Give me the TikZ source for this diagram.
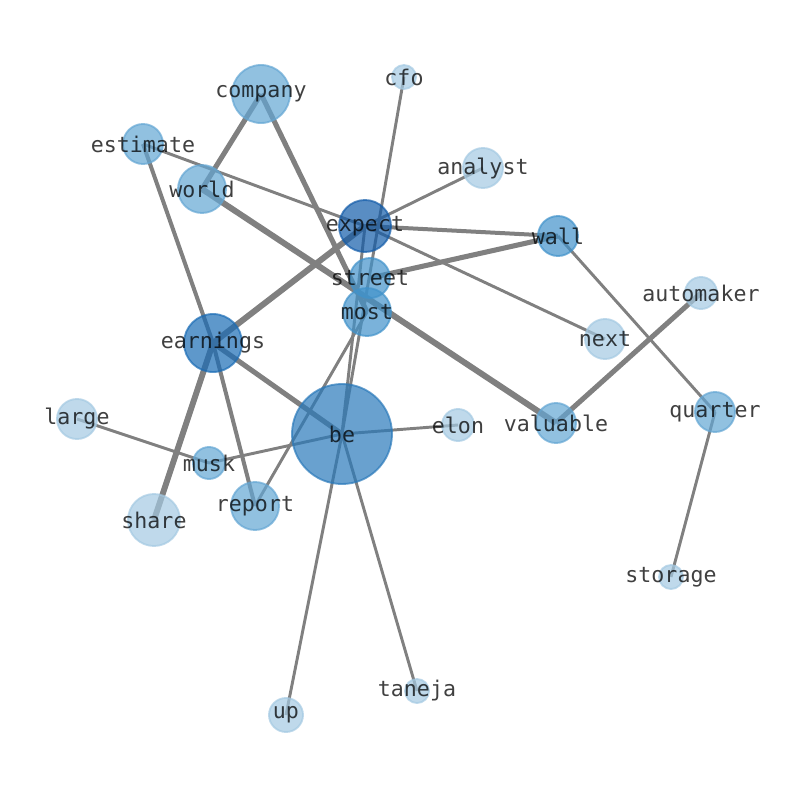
\documentclass[tikz,border=0pt]{standalone}
\usepackage{fontspec}
\setmonofont{DejaVu Sans Mono}
\begin{document}
\begin{tikzpicture}[x=0.75pt,y=-0.75pt,
  cLight/.style={fill=lightc,draw=lightc},
  cMed/.style={fill=medc,draw=medc},
  cMd/.style={fill=mdc,draw=mdc},
  cBe/.style={fill=bec,draw=bec},
  cEarn/.style={fill=earnc,draw=earnc},
  cExp/.style={fill=expc,draw=expc},
  vtx/.style={circle,inner sep=0pt,fill opacity=0.7,draw opacity=0.7,line width=1.4pt},
  lbl/.style={font=\ttfamily\fontsize{16.2}{19}\selectfont,text=black,text opacity=0.75,inner sep=0pt},
  e1/.style={draw=edgec,line width=2.2pt},
  e2/.style={draw=edgec,line width=3pt},
  e3/.style={draw=edgec,line width=3.8pt},
  e4/.style={draw=edgec,line width=4.5pt}
]
\definecolor{lightc}{HTML}{A4C9E2}
\definecolor{medc}{HTML}{63A6D3}
\definecolor{mdc}{HTML}{4192CA}
\definecolor{bec}{HTML}{2A79BA}
\definecolor{earnc}{HTML}{1A6CB5}
\definecolor{expc}{HTML}{135CA9}
\definecolor{edgec}{HTML}{808080}
\useasboundingbox (0,0) rectangle (794,790);
% node positions
\coordinate (cfo) at (404,77);
\coordinate (company) at (261,94);
\coordinate (estimate) at (143,144);
\coordinate (world) at (202,189);
\coordinate (analyst) at (483,168);
\coordinate (expect) at (365,226);
\coordinate (wall) at (558,236);
\coordinate (street) at (370,278);
\coordinate (most) at (367,312);
\coordinate (automaker) at (701,293);
\coordinate (earnings) at (213,343);
\coordinate (next) at (605,339);
\coordinate (large) at (77,419);
\coordinate (be) at (342,434);
\coordinate (elon) at (458,425);
\coordinate (valuable) at (556,423);
\coordinate (quarter) at (715,412);
\coordinate (musk) at (209,463);
\coordinate (report) at (255,506);
\coordinate (share) at (154,520);
\coordinate (storage) at (671,577);
\coordinate (taneja) at (417,691);
\coordinate (up) at (286,715);
% edges
\draw[e1] (cfo) -- (be);
\draw[e3] (company) -- (world);
\draw[e3] (company) -- (most);
\draw[e1] (estimate) -- (expect);
\draw[e2] (estimate) -- (earnings);
\draw[e4] (world) -- (valuable);
\draw[e1] (analyst) -- (expect);
\draw[e2] (expect) -- (wall);
\draw[e1] (expect) -- (next);
\draw[e4] (expect) -- (earnings);
\draw[e1] (expect) -- (be);
\draw[e3] (street) -- (wall);
\draw[e4] (earnings) -- (share);
\draw[e3] (earnings) -- (be);
\draw[e2] (earnings) -- (report);
\draw[e1] (large) -- (musk);
\draw[e1] (musk) -- (be);
\draw[e1] (be) -- (elon);
\draw[e1] (most) -- (report);
\draw[e1] (be) -- (up);
\draw[e1] (be) -- (taneja);
\draw[e3] (automaker) -- (valuable);
\draw[e1] (wall) -- (quarter);
\draw[e1] (quarter) -- (storage);
% vertices
\node[vtx,cLight,minimum size=18pt] (ncfo) at (cfo) {};
\node[vtx,cMed,minimum size=43.5pt] (ncompany) at (company) {};
\node[vtx,cMed,minimum size=30pt] (nestimate) at (estimate) {};
\node[vtx,cMed,minimum size=36pt] (nworld) at (world) {};
\node[vtx,cLight,minimum size=30pt] (nanalyst) at (analyst) {};
\node[vtx,cExp,minimum size=39pt] (nexpect) at (expect) {};
\node[vtx,cMd,minimum size=30pt] (nwall) at (wall) {};
\node[vtx,cMd,minimum size=30pt] (nstreet) at (street) {};
\node[vtx,cMd,minimum size=36pt] (nmost) at (most) {};
\node[vtx,cLight,minimum size=24pt] (nautomaker) at (automaker) {};
\node[vtx,cEarn,minimum size=43.5pt] (nearnings) at (earnings) {};
\node[vtx,cLight,minimum size=30pt] (nnext) at (next) {};
\node[vtx,cLight,minimum size=30pt] (nlarge) at (large) {};
\node[vtx,cBe,minimum size=75pt] (nbe) at (be) {};
\node[vtx,cLight,minimum size=24pt] (nelon) at (elon) {};
\node[vtx,cMed,minimum size=30pt] (nvaluable) at (valuable) {};
\node[vtx,cMed,minimum size=30pt] (nquarter) at (quarter) {};
\node[vtx,cMed,minimum size=24pt] (nmusk) at (musk) {};
\node[vtx,cMed,minimum size=36pt] (nreport) at (report) {};
\node[vtx,cLight,minimum size=39pt] (nshare) at (share) {};
\node[vtx,cLight,minimum size=18pt] (nstorage) at (storage) {};
\node[vtx,cLight,minimum size=18pt] (ntaneja) at (taneja) {};
\node[vtx,cLight,minimum size=25.5pt] (nup) at (up) {};
% labels
\node[lbl] (tcfo) at (cfo) {cfo};
\node[lbl] (tcompany) at (company) {company};
\node[lbl] (testimate) at (estimate) {estimate};
\node[lbl] (tworld) at (world) {world};
\node[lbl] (tanalyst) at (analyst) {analyst};
\node[lbl] (texpect) at (expect) {expect};
\node[lbl] (twall) at (wall) {wall};
\node[lbl] (tstreet) at (street) {street};
\node[lbl] (tmost) at (most) {most};
\node[lbl] (tautomaker) at (automaker) {automaker};
\node[lbl] (tearnings) at (earnings) {earnings};
\node[lbl] (tnext) at (next) {next};
\node[lbl] (tlarge) at (large) {large};
\node[lbl] (tbe) at (be) {be};
\node[lbl] (telon) at (elon) {elon};
\node[lbl] (tvaluable) at (valuable) {valuable};
\node[lbl] (tquarter) at (quarter) {quarter};
\node[lbl] (tmusk) at (musk) {musk};
\node[lbl] (treport) at (report) {report};
\node[lbl] (tshare) at (share) {share};
\node[lbl] (tstorage) at (storage) {storage};
\node[lbl] (ttaneja) at (taneja) {taneja};
\node[lbl] (tup) at (up) {up};
\end{tikzpicture}
\end{document}
